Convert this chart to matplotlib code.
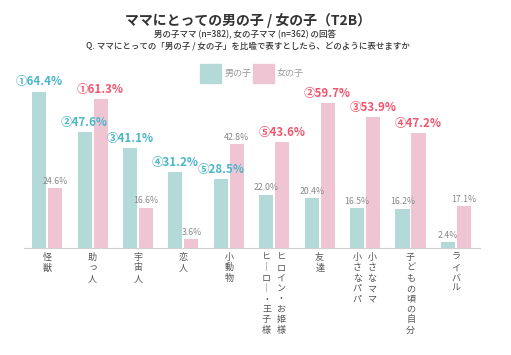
import matplotlib.pyplot as plt
from matplotlib.patches import Rectangle

plt.rcParams['font.family'] = ['Noto Sans CJK JP', 'DejaVu Sans']

categories = ["怪獣", "助っ人", "宇宙人", "恋人", "小動物",
              "ヒロイン・お姫様/ヒーロー・王子様", "友達", "小さなママ/小さなパパ",
              "子どもの頃の自分", "ライバル"]
boys = [64.4, 47.6, 41.1, 31.2, 28.5, 22.0, 20.4, 16.5, 16.2, 2.4]
girls = [24.6, 61.3, 16.6, 3.6, 42.8, 43.6, 59.7, 53.9, 47.2, 17.1]
boys_rank = ["①", "②", "③", "④", "⑤", "", "", "", "", ""]
girls_rank = ["", "①", "", "", "", "⑤", "②", "③", "④", ""]

teal = "#b3d9d8"
pink = "#f0c5d3"
blue_txt = "#4cb6c9"
red_txt = "#f2566e"
gray_txt = "#888888"

fig = plt.figure(figsize=(5.11, 3.55), dpi=100)
ax = fig.add_axes([24/511, 1 - 248/355, 456/511, 168/355])

x = list(range(len(categories)))
off = 0.176
w = 0.31
ax.bar([i - off for i in x], boys, w, color=teal, linewidth=0)
ax.bar([i + off for i in x], girls, w, color=pink, linewidth=0)

ax.set_xlim(-0.51, 9.53)
ax.set_ylim(0, 69.2)
for s in ["top", "right", "left"]:
    ax.spines[s].set_visible(False)
ax.spines["bottom"].set_color("#d0d0d0")
ax.spines["bottom"].set_linewidth(0.8)
ax.set_xticks([])
ax.set_yticks([])

def put_label(xp, v, rank, color):
    if rank:
        ax.text(xp, v + 1.3, f"{rank}{v:.1f}%", ha="center", va="bottom",
                fontsize=8.3, fontweight="bold", color=color)
    else:
        ax.text(xp, v + 1.0, f"{v:.1f}%", ha="center", va="bottom",
                fontsize=6.3, color=gray_txt)

for i in x:
    put_label(i - off, boys[i], boys_rank[i], blue_txt)
    put_label(i + off, girls[i], girls_rank[i], red_txt)

# vertical (tategaki) category labels
def vert(s):
    return "\n".join("｜" if c == "ー" else c for c in s)

for i, cat in enumerate(categories):
    cols = cat.split("/")
    if len(cols) == 1:
        ax.text(i, -2.0, vert(cols[0]), ha="center", va="top", fontsize=6.5,
                color="#555555", linespacing=1.2)
    else:
        # first column on the right, second on the left
        ax.text(i + 0.15, -2.0, vert(cols[0]), ha="center", va="top", fontsize=6.5,
                color="#555555", linespacing=1.2)
        ax.text(i - 0.17, -2.0, vert(cols[1]), ha="center", va="top", fontsize=6.5,
                color="#555555", linespacing=1.2)

fig.text(248/511, 1 - 20/355, "ママにとっての男の子 / 女の子（T2B）", ha="center", va="center",
         fontsize=10, fontweight="bold", color="#333333")
fig.text(245/511, 1 - 35/355, "男の子ママ (n=382), 女の子ママ (n=362) の回答", ha="center",
         va="center", fontsize=6.1, fontweight="medium", color="#333333")
fig.text(248/511, 1 - 46/355, "Q. ママにとっての「男の子 / 女の子」を比喩で表すとしたら、どのように表せますか",
         ha="center", va="center", fontsize=6.1, fontweight="medium", color="#333333")

# legend
fig.patches.append(Rectangle((200/511, 1 - 83/355), 21/511, 19/355, transform=fig.transFigure,
                             color=teal))
fig.text(225/511, 1 - 73/355, "男の子", va="center", fontsize=6.5, color="#999999")
fig.patches.append(Rectangle((253/511, 1 - 83/355), 21/511, 19/355, transform=fig.transFigure,
                             color=pink))
fig.text(277/511, 1 - 73/355, "女の子", va="center", fontsize=6.5, color="#999999")

fig.savefig("out.png", dpi=100, facecolor="white")
